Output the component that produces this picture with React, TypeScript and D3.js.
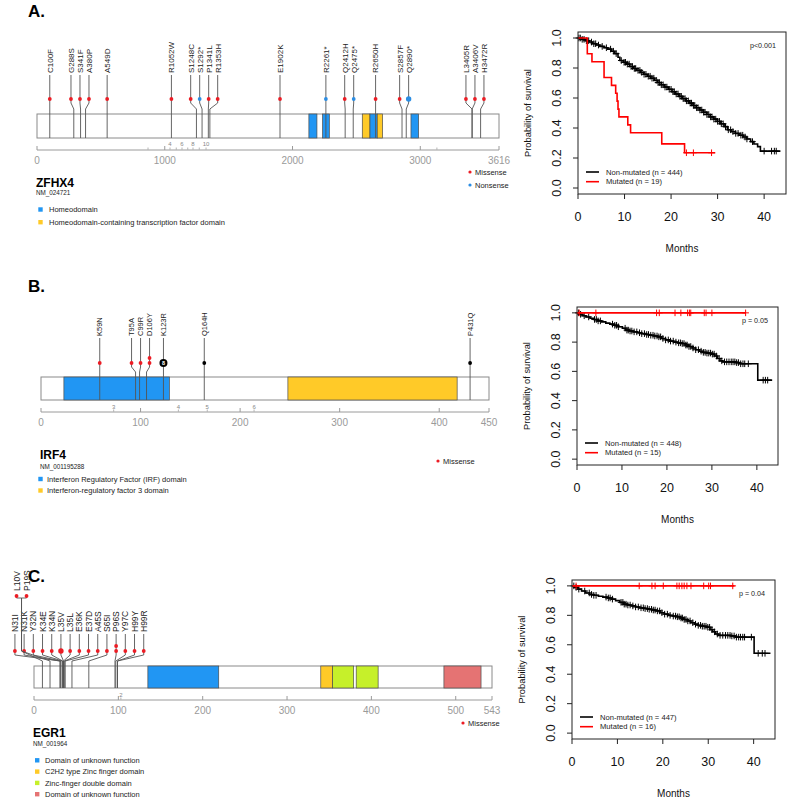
import React from "react";
import * as d3 from "d3";

const FONT = "'Liberation Sans', Arial, Helvetica, sans-serif";

// ---------------- shared ----------------
const mutationTypes = ["Missense", "Nonsense", "Other"];
const mutationColors = ["#ec1c24", "#2b8de3", "#000000"];

// ---------------- Panel A : ZFHX4 ----------------
const zfhx4Length = 3616;
const zfhx4Ticks = [0, 1000, 2000, 3000, 3616];
const zfhx4DomainNames = ["Homeodomain", "Homeodomain-containing transcription factor domain"];
const zfhx4DomainColors = ["#2196f3", "#ffca28"];
const zfhx4Domains = [
  { start: 2128, end: 2191, d: 0 },
  { start: 2235, end: 2288, d: 0 },
  { start: 2546, end: 2606, d: 1 },
  { start: 2606, end: 2663, d: 0 },
  { start: 2663, end: 2705, d: 1 },
  { start: 2927, end: 2987, d: 0 },
];
const zfhx4Mutations = [
  { label: "C100F", pos: 100, type: 0 },
  { label: "G288S", pos: 288, type: 0 },
  { label: "S341F", pos: 341, type: 0 },
  { label: "A380P", pos: 380, type: 0 },
  { label: "A549D", pos: 549, type: 0 },
  { label: "R1052W", pos: 1052, type: 0 },
  { label: "S1248C", pos: 1248, type: 0 },
  { label: "S1292*", pos: 1292, type: 1 },
  { label: "P1341L", pos: 1341, type: 0 },
  { label: "R1353H", pos: 1353, type: 0 },
  { label: "E1902K", pos: 1902, type: 0 },
  { label: "R2261*", pos: 2261, type: 1 },
  { label: "Q2412H", pos: 2412, type: 0 },
  { label: "Q2475*", pos: 2475, type: 1 },
  { label: "R2650H", pos: 2650, type: 0 },
  { label: "S2857F", pos: 2857, type: 0 },
  { label: "Q2890*", pos: 2890, type: 1, big: true },
  { label: "L3405R", pos: 3405, type: 0 },
  { label: "A3406V", pos: 3406, type: 0 },
  { label: "H3472R", pos: 3472, type: 0 },
];
const zfhx4Exons = [
  { pos: 869, label: "" },
  { pos: 1041, label: "4" },
  { pos: 1090, label: "" },
  { pos: 1135, label: "6" },
  { pos: 1180, label: "" },
  { pos: 1221, label: "8" },
  { pos: 1270, label: "" },
  { pos: 1323, label: "10" },
  { pos: 3130, label: "" },
];
const zfhx4MutLegend = [0, 1];

// ---------------- Panel B : IRF4 ----------------
const irf4Length = 450;
const irf4Ticks = [0, 100, 200, 300, 400, 450];
const irf4DomainNames = ["Interferon Regulatory Factor (IRF) domain", "Interferon-regulatory factor 3 domain"];
const irf4DomainColors = ["#2196f3", "#ffca28"];
const irf4Domains = [
  { start: 23, end: 129, d: 0 },
  { start: 248, end: 418, d: 1 },
];
const irf4Mutations = [
  { label: "K59N", pos: 59, type: 0 },
  { label: "T95A", pos: 95, type: 0 },
  { label: "C99R", pos: 99, type: 0 },
  { label: "D106Y", pos: 106, type: 0, n: 2 },
  { label: "K123R", pos: 123, type: 2, count: 8 },
  { label: "Q164H", pos: 164, type: 2 },
  { label: "P431Q", pos: 431, type: 2 },
];
const irf4Exons = [
  { pos: 73, label: "3" },
  { pos: 138, label: "4" },
  { pos: 167, label: "5" },
  { pos: 214, label: "6" },
];
const irf4MutLegend = [0];

// ---------------- Panel C : EGR1 ----------------
const egr1Length = 543;
const egr1Ticks = [0, 100, 200, 300, 400, 500, 543];
const egr1DomainNames = [
  "Domain of unknown function",
  "C2H2 type Zinc finger domain",
  "Zinc-finger double domain",
  "Domain of unknown function",
];
const egr1DomainColors = ["#2196f3", "#ffca28", "#c6f02a", "#e57373"];
const egr1Domains = [
  { start: 135, end: 219, d: 0 },
  { start: 340, end: 354, d: 1 },
  { start: 354, end: 379, d: 2 },
  { start: 382, end: 408, d: 2 },
  { start: 486, end: 530, d: 3 },
];
const egr1Mutations = [
  { label: "L10V", pos: 10, type: 0, level: 2 },
  { label: "P19S", pos: 19, type: 0, level: 2 },
  { label: "N31I", pos: 31, type: 0 },
  { label: "N31K", pos: 31, type: 0 },
  { label: "Y32N", pos: 32, type: 0 },
  { label: "K34E", pos: 34, type: 0 },
  { label: "K34N", pos: 34, type: 0 },
  { label: "L35V", pos: 35, type: 0, big: true },
  { label: "L35L", pos: 35, type: 0 },
  { label: "E36K", pos: 36, type: 0 },
  { label: "E37D", pos: 37, type: 0 },
  { label: "A45S", pos: 45, type: 0 },
  { label: "S65I", pos: 65, type: 0 },
  { label: "P96S", pos: 96, type: 0, n: 2 },
  { label: "Y97C", pos: 97, type: 0 },
  { label: "H99Y", pos: 99, type: 0 },
  { label: "H99R", pos: 99, type: 0 },
];
const egr1Exons = [{ pos: 103, label: "2" }];
const egr1MutLegend = [0];

// ---------------- Survival data ----------------
const kmMonthsTicks = [0, 10, 20, 30, 40];
const kmProbTicks = [0, 0.2, 0.4, 0.6, 0.8, 1.0];

const zfhx4NonMut = [
  [0, 1], [0.8, 0.991], [1.6, 0.982], [2.4, 0.973], [3.1, 0.962], [3.9, 0.953], [4.7, 0.944],
  [5.6, 0.935], [6.4, 0.926], [7.2, 0.912], [7.9, 0.896], [8.6, 0.872], [9.0, 0.85], [9.7, 0.838],
  [10.4, 0.826], [11.1, 0.81], [11.9, 0.797], [12.6, 0.784], [13.4, 0.771], [14.1, 0.758],
  [14.9, 0.745], [15.6, 0.732], [16.4, 0.718], [17.1, 0.703], [17.9, 0.688], [18.6, 0.673],
  [19.4, 0.658], [20.2, 0.642], [20.9, 0.627], [21.7, 0.611], [22.4, 0.596], [23.2, 0.581],
  [23.9, 0.566], [24.7, 0.55], [25.4, 0.535], [26.2, 0.52], [26.9, 0.505], [27.7, 0.49],
  [28.4, 0.474], [29.2, 0.459], [29.9, 0.444], [30.7, 0.428], [31.4, 0.409], [32.1, 0.388],
  [32.9, 0.376], [33.8, 0.364], [34.6, 0.352], [35.5, 0.34], [36.3, 0.327], [37.1, 0.309],
  [37.8, 0.293], [38.6, 0.276], [39.2, 0.246], [43.5, 0.246],
];
const zfhx4NonMutCensor = [
  0.2, 0.5, 0.9, 1.3, 1.8, 2.3, 2.9, 3.4, 3.8, 4.4, 5.2, 6.1, 7.0, 7.6, 8.2, 9.3, 9.9, 10.2, 10.6,
  11.0, 11.4, 11.7, 12.1, 12.4, 12.9, 13.3, 13.7, 14.2, 14.6, 15.1, 15.5, 15.9, 16.3, 16.8, 17.2,
  17.5, 17.9, 18.3, 18.7, 19.1, 19.6, 20.0, 20.4, 20.7, 21.1, 21.5, 21.9, 22.2, 22.6, 23.0, 23.3,
  23.7, 24.1, 24.4, 24.8, 25.1, 25.5, 25.8, 26.2, 26.6, 27.0, 27.3, 27.7, 28.1, 28.5, 28.8, 29.2,
  29.6, 30.0, 30.4, 30.8, 31.2, 31.7, 32.3, 32.8, 33.3, 33.9, 34.4, 35.0, 35.4, 35.9, 36.3, 37.5,
  40.0, 41.6, 42.2, 42.6,
];
const zfhx4Mut = [
  [0, 1], [2.0, 0.895], [3.0, 0.842], [5.6, 0.737], [7.2, 0.684], [8.1, 0.632], [8.4, 0.579],
  [8.6, 0.526], [8.8, 0.474], [10.7, 0.421], [11.3, 0.368], [18.0, 0.294], [22.9, 0.235], [29.5, 0.235],
];
const zfhx4MutCensor = [23.3, 24.8, 28.7];

const irf4NonMut = [
  [0, 1], [0.5, 0.99], [1.2, 0.98], [2, 0.972], [2.9, 0.963], [3.7, 0.955], [4.6, 0.945],
  [5.5, 0.938], [6.4, 0.93], [7.3, 0.923], [8.2, 0.915], [9.1, 0.905], [10.1, 0.895], [10.8, 0.882],
  [11.6, 0.876], [12.5, 0.87], [13.4, 0.864], [14.3, 0.858], [15.2, 0.852], [16.1, 0.847],
  [17, 0.842], [17.9, 0.836], [18.8, 0.825], [19.7, 0.815], [20.6, 0.807], [21.5, 0.8],
  [22.4, 0.795], [23.3, 0.79], [24.1, 0.78], [24.9, 0.77], [25.6, 0.76], [26.4, 0.748],
  [27.2, 0.738], [28, 0.73], [28.9, 0.725], [29.8, 0.718], [30.6, 0.705], [31.2, 0.688],
  [31.8, 0.672], [32.4, 0.665], [35.2, 0.66], [36.1, 0.652], [40.2, 0.54], [43.4, 0.54],
];
const irf4NonMutCensor = [
  0.3, 0.8, 1.6, 2.6, 3.9, 4.3, 4.7, 5.2, 7.9, 8.4, 8.8, 9.2, 10.7, 11.1, 11.4, 11.8, 12.2, 12.7,
  13.3, 13.9, 14.4, 15.0, 15.5, 15.9, 16.4, 16.9, 17.3, 17.8, 18.2, 18.6, 19.1, 19.7, 20.3, 20.8,
  21.4, 22.0, 22.6, 23.0, 23.4, 23.8, 24.2, 24.5, 24.9, 25.3, 25.8, 26.4, 27.0, 27.6, 28.1, 28.5,
  28.9, 29.3, 29.7, 30.1, 30.5, 31.0, 31.6, 32.2, 32.8, 33.3, 33.8, 34.3, 34.7, 35.1, 35.5, 35.9,
  36.4, 36.9, 37.3, 38.1, 41.4, 41.9, 42.4,
];
const irf4Mut = [[0, 1], [37.5, 1]];
const irf4MutCensor = [0.5, 4.2, 17.7, 18.3, 21.8, 23.1, 24.6, 25.0, 25.3, 28.3, 28.7, 30.0, 37.5];

const egr1NonMut = [
  [0, 1], [0.6, 0.99], [1.3, 0.978], [2.1, 0.965], [3, 0.952], [3.9, 0.942], [4.8, 0.936],
  [5.8, 0.93], [6.8, 0.924], [7.8, 0.918], [8.7, 0.91], [9.6, 0.9], [10.5, 0.888], [11.3, 0.876],
  [12.2, 0.87], [13.1, 0.864], [14, 0.857], [14.9, 0.851], [15.8, 0.846], [16.7, 0.841],
  [17.6, 0.836], [18.5, 0.83], [19.4, 0.818], [20.3, 0.808], [21.2, 0.8], [22.1, 0.795],
  [23, 0.79], [23.8, 0.782], [24.6, 0.772], [25.4, 0.762], [26.2, 0.75], [27, 0.74],
  [27.8, 0.732], [28.7, 0.726], [29.6, 0.719], [30.4, 0.703], [31, 0.688], [31.6, 0.673],
  [32.3, 0.664], [35, 0.66], [36, 0.652], [40.1, 0.542], [43.7, 0.542],
];
const egr1NonMutCensor = [
  0.4, 0.9, 1.5, 2.8, 3.8, 4.3, 4.8, 5.3, 7.5, 8.0, 8.4, 8.9, 10.8, 11.2, 11.5, 11.9, 12.3, 12.8,
  13.4, 14.0, 14.6, 15.2, 15.7, 16.1, 16.6, 17.0, 17.5, 17.9, 18.3, 18.8, 19.3, 19.8, 20.4, 21.0,
  21.6, 22.3, 22.8, 23.2, 23.6, 24.0, 24.3, 24.7, 25.1, 25.5, 26.0, 26.6, 27.2, 27.8, 28.3, 28.7,
  29.1, 29.5, 29.9, 30.3, 30.8, 31.4, 32.0, 32.6, 33.2, 33.8, 34.3, 34.8, 35.2, 35.7, 36.2, 36.7,
  37.1, 37.6, 38.0, 39.5, 41.0, 41.9, 42.5,
];
const egr1Mut = [[0, 1], [35.8, 1]];
const egr1MutCensor = [0.9, 14.8, 17.6, 18.3, 20.1, 23.1, 23.6, 24.2, 24.7, 25.3, 26.2, 29.0, 30.1, 30.5, 35.4];

// ---------------- layout configs ----------------
const panelA = {
  tag: "A.", tagY: 17,
  gene: "ZFHX4", transcript: "NM_024721",
  length: zfhx4Length, ticks: zfhx4Ticks, domains: zfhx4Domains, domainNames: zfhx4DomainNames,
  domainColors: zfhx4DomainColors, mutations: zfhx4Mutations, exons: zfhx4Exons, mutLegend: zfhx4MutLegend,
  x0: 37, x1: 499, labelBottom: 73, dotY: 99, dot2Y: 0, barTop: 114, barBottom: 138, exonY: 145.5,
  axisY: 150, tickY: 163.5, geneY: 187, trY: 195, legY: 209.5, legStep: 12.7, legSq: 38.3, legTx: 49,
  mlX: 470, mlY: 172, mlStep: 13, fs: 8, gap: 9,
};
const panelB = {
  tag: "B.", tagY: 292,
  gene: "IRF4", transcript: "NM_001195288",
  length: irf4Length, ticks: irf4Ticks, domains: irf4Domains, domainNames: irf4DomainNames,
  domainColors: irf4DomainColors, mutations: irf4Mutations, exons: irf4Exons, mutLegend: irf4MutLegend,
  x0: 41, x1: 489, labelBottom: 336, dotY: 363, dot2Y: 0, barTop: 377, barBottom: 400, exonY: 408.5,
  axisY: 412, tickY: 425.5, geneY: 459, trY: 468.5, legY: 479, legStep: 11.5, legSq: 38.3, legTx: 47,
  mlX: 438, mlY: 461, mlStep: 13, fs: 7.5, gap: 9,
};
const panelC = {
  tag: "C.", tagY: 582,
  gene: "EGR1", transcript: "NM_001964",
  length: egr1Length, ticks: egr1Ticks, domains: egr1Domains, domainNames: egr1DomainNames,
  domainColors: egr1DomainColors, mutations: egr1Mutations, exons: egr1Exons, mutLegend: egr1MutLegend,
  x0: 34, x1: 492, labelBottom: 632, dotY: 651, dot2Y: 596, label2Bottom: 591, barTop: 666, barBottom: 688,
  exonY: 697, axisY: 700, tickY: 713.5, geneY: 737, trY: 745.5, legY: 760.3, legStep: 11.3, legSq: 35,
  legTx: 45, mlX: 463, mlY: 723, mlStep: 13, fs: 8.5, gap: 9.2,
};

const kmA = {
  box: { l: 578, r: 786, t: 32, b: 194 },
  series: [
    { pts: zfhx4NonMut, censor: zfhx4NonMutCensor, color: "#000", label: "Non-mutated (n = 444)" },
    { pts: zfhx4Mut, censor: zfhx4MutCensor, color: "#ff0000", label: "Mutated (n = 19)" },
  ],
  p: "p<0.001",
};
const kmB = {
  box: { l: 577, r: 778, t: 307, b: 465 },
  series: [
    { pts: irf4NonMut, censor: irf4NonMutCensor, color: "#000", label: "Non-mutated (n = 448)" },
    { pts: irf4Mut, censor: irf4MutCensor, color: "#ff0000", label: "Mutated (n = 15)" },
  ],
  p: "p = 0.05",
};
const kmC = {
  box: { l: 572, r: 775, t: 580, b: 739 },
  series: [
    { pts: egr1NonMut, censor: egr1NonMutCensor, color: "#000", label: "Non-mutated (n = 447)" },
    { pts: egr1Mut, censor: egr1MutCensor, color: "#ff0000", label: "Mutated (n = 16)" },
  ],
  p: "p = 0.04",
};

// ---------------- helpers ----------------
function spread(desired: number[], gap: number): number[] {
  let cl = desired.map((d) => ({ n: 1, sum: d }));
  const start = (c: { n: number; sum: number }) => c.sum / c.n - (gap * (c.n - 1)) / 2;
  let changed = true;
  while (changed) {
    changed = false;
    for (let i = 0; i < cl.length - 1; i++) {
      const a = cl[i], b = cl[i + 1];
      if (start(a) + gap * a.n > start(b) + 1e-6) {
        cl.splice(i, 2, { n: a.n + b.n, sum: a.sum + b.sum });
        changed = true;
        break;
      }
    }
  }
  const out: number[] = [];
  cl.forEach((c) => {
    const s = start(c);
    for (let k = 0; k < c.n; k++) out.push(s + k * gap);
  });
  return out;
}

function stepValue(pts: number[][], t: number) {
  let v = pts[0][1];
  for (const p of pts) {
    if (p[0] <= t) v = p[1];
    else break;
  }
  return v;
}

function Lollipop({ c }: { c: any }) {
  const x = d3.scaleLinear().domain([0, c.length]).range([c.x0, c.x1]);
  const muts = [...c.mutations].sort((a: any, b: any) => a.pos - b.pos);
  const main = muts.filter((m: any) => (m.level ?? 1) === 1);
  const lv2 = muts.filter((m: any) => m.level === 2);
  const mainX = spread(main.map((m: any) => x(m.pos)), c.gap);
  let lv2X = spread(lv2.map((m: any) => x(m.pos)), c.gap + 0.8);
  if (lv2.length) {
    const shift = mainX[0] + 1.6 - lv2X[0];
    lv2X = lv2X.map((v) => v + shift);
  }
  const elbowA = c.dotY + 4;
  const elbowB = c.barTop - 5;
  const lineCol = "#555";
  const grey = "#9a9a9a";
  const capH = c.fs * 0.36;

  const lv2Mid = lv2X.length ? d3.mean(lv2X)! : 0;

  return (
    <g>
      <text x={28} y={c.tagY} fontSize={17} fontWeight="bold" fill="#000">{c.tag}</text>
      {/* protein bar */}
      <rect x={c.x0} y={c.barTop} width={c.x1 - c.x0} height={c.barBottom - c.barTop} fill="#fff" stroke="#8a8a8a" strokeWidth={1} />
      {c.domains.map((d: any, i: number) => (
        <rect key={i} x={x(d.start)} y={c.barTop} width={x(d.end) - x(d.start)} height={c.barBottom - c.barTop}
          fill={c.domainColors[d.d]} stroke="#4d4d4d" strokeWidth={0.7} />
      ))}
      {/* axis */}
      <line x1={c.x0} x2={c.x1} y1={c.axisY} y2={c.axisY} stroke={grey} strokeWidth={1} />
      {c.ticks.map((t: number) => (
        <g key={t}>
          <line x1={x(t)} x2={x(t)} y1={c.axisY - 4} y2={c.axisY} stroke={grey} />
          <text x={x(t)} y={c.tickY} fontSize={10} fill={grey} textAnchor="middle">{t}</text>
        </g>
      ))}
      {c.exons.map((e: any, i: number) => (
        <g key={i}>
          <line x1={x(e.pos)} x2={x(e.pos)} y1={c.axisY - 2.5} y2={c.axisY} stroke="#b5b5b5" />
          <text x={x(e.pos)} y={c.exonY} fontSize={6} fill="#888" textAnchor="middle">{e.label}</text>
        </g>
      ))}
      {/* main lollipops */}
      {main.map((m: any, i: number) => {
        const lx = mainX[i];
        const ax = x(m.pos);
        const n = m.n ?? 1;
        const col = mutationColors[m.type];
        const r = m.count ? 4 : m.big ? 2.7 : 1.9;
        return (
          <g key={m.label}>
            <text transform={`translate(${lx + capH},${c.labelBottom}) rotate(-90)`} fontSize={c.fs} fill="#222">{m.label}</text>
            <line x1={lx} x2={lx} y1={c.labelBottom + 2} y2={c.dotY} stroke={lineCol} strokeWidth={0.9} />
            <path d={`M${lx},${c.dotY}V${elbowA}L${ax},${elbowB}V${c.barBottom}`} fill="none" stroke={lineCol} strokeWidth={0.9} />
            {d3.range(n).map((k) => (
              <circle key={k} cx={lx} cy={c.dotY - k * 5} r={r} fill={col} />
            ))}
            {m.count ? (
              <text x={lx} y={c.dotY + 2} fontSize={5.5} fontWeight="bold" fill="#fff" textAnchor="middle">{m.count}</text>
            ) : null}
          </g>
        );
      })}
      {/* second level lollipops */}
      {lv2.map((m: any, i: number) => {
        const lx = lv2X[i];
        const ax = x(m.pos);
        const col = mutationColors[m.type];
        return (
          <g key={m.label}>
            <text transform={`translate(${lx + capH},${c.label2Bottom}) rotate(-90)`} fontSize={c.fs} fill="#222">{m.label}</text>
            <path d={`M${lx},${c.dot2Y}V${c.dot2Y + 2}H${lv2Mid}V${c.dotY}L${ax},${elbowB}V${c.barBottom}`} fill="none" stroke={lineCol} strokeWidth={0.9} />
            <circle cx={lx} cy={c.dot2Y} r={1.9} fill={col} />
          </g>
        );
      })}
      {/* gene labels */}
      <text x={c.x0 - 1} y={c.geneY} fontSize={12} fontWeight="bold" fill="#000">{c.gene}</text>
      <text x={c.x0 - 1} y={c.trY} fontSize={6.3} fill="#222">{c.transcript}</text>
      {c.domainNames.map((nm: string, i: number) => (
        <g key={i}>
          <rect x={c.legSq} y={c.legY + i * c.legStep - 2.2} width={4.4} height={4.4} fill={c.domainColors[i]} />
          <text x={c.legTx} y={c.legY + i * c.legStep + 2.7} fontSize={7.5} fill="#222">{nm}</text>
        </g>
      ))}
      {c.mutLegend.map((t: number, i: number) => (
        <g key={t}>
          <circle cx={c.mlX} cy={c.mlY + i * c.mlStep} r={1.6} fill={mutationColors[t]} />
          <text x={c.mlX + 5} y={c.mlY + i * c.mlStep + 2.7} fontSize={7.5} fill="#222">{mutationTypes[t]}</text>
        </g>
      ))}
    </g>
  );
}

function KM({ c }: { c: any }) {
  const { l, r, t, b } = c.box;
  const x = d3.scaleLinear().domain([0, 44.7]).range([l, r]);
  const y = d3.scaleLinear().domain([-0.04, 1.04]).range([b, t]);
  const line = d3.line<number[]>().x((d) => x(d[0])).y((d) => y(d[1])).curve(d3.curveStepAfter);
  const cs = 3.3;
  return (
    <g>
      {c.series.map((s: any, i: number) => (
        <g key={i}>
          <path d={line(s.pts) || ""} fill="none" stroke={s.color} strokeWidth={1.6} />
          {s.censor.map((tm: number, k: number) => {
            const cx = x(tm);
            const cy = y(stepValue(s.pts, tm));
            return (
              <path key={k} d={`M${cx},${cy - cs}V${cy + cs}M${cx - cs},${cy}H${cx + cs}`} stroke={s.color} strokeWidth={1} />
            );
          })}
        </g>
      ))}
      <rect x={l} y={t} width={r - l} height={b - t} fill="none" stroke="#222" strokeWidth={1} />
      {kmMonthsTicks.map((v) => (
        <g key={v}>
          <line x1={x(v)} x2={x(v)} y1={b} y2={b + 5} stroke="#222" />
          <text x={x(v)} y={b + 27} fontSize={12.5} textAnchor="middle" fill="#111">{v}</text>
        </g>
      ))}
      {kmProbTicks.map((v) => (
        <g key={v}>
          <line x1={l} x2={l - 5} y1={y(v)} y2={y(v)} stroke="#222" />
          <text transform={`translate(${l - 17},${y(v)}) rotate(-90)`} fontSize={12.5} textAnchor="middle" fill="#111">{v.toFixed(1)}</text>
        </g>
      ))}
      <text x={(l + r) / 2} y={b + 57.5} fontSize={10} textAnchor="middle" fill="#111">Months</text>
      <text transform={`translate(${l - 47},${(t + b) / 2}) rotate(-90)`} fontSize={9.3} textAnchor="middle" fill="#111">Probability of survival</text>
      {c.series.map((s: any, i: number) => (
        <g key={i}>
          <line x1={l + 8} x2={l + 21} y1={b - 22 + i * 9.7} y2={b - 22 + i * 9.7} stroke={s.color} strokeWidth={1.6} />
          <text x={l + 28} y={b - 22 + i * 9.7 + 2.6} fontSize={7.6} fill="#222">{s.label}</text>
        </g>
      ))}
      <text x={r - 23} y={t + 16} fontSize={7.2} textAnchor="middle" fill="#222">{c.p}</text>
    </g>
  );
}

export default function App() {
  return (
    <svg width={800} height={805} style={{ position: "absolute", left: 0, top: 0, background: "#fff" }} fontFamily={FONT}>
      <rect width={800} height={805} fill="#fff" />
      <Lollipop c={panelA} />
      <Lollipop c={panelB} />
      <Lollipop c={panelC} />
      <KM c={kmA} />
      <KM c={kmB} />
      <KM c={kmC} />
    </svg>
  );
}
